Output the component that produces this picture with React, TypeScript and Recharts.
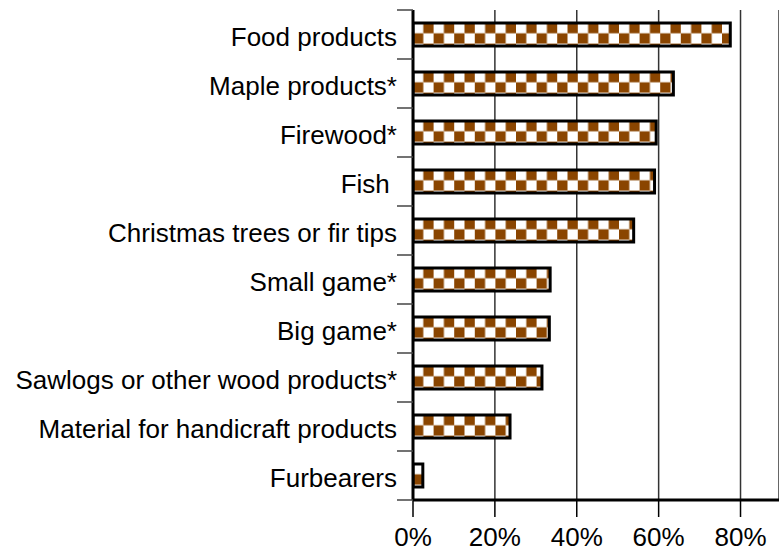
import React from 'react';
import { BarChart, Bar, XAxis, YAxis, CartesianGrid } from 'recharts';

const categories = [
  'Food products',
  'Maple products*',
  'Firewood*',
  'Fish ',
  'Christmas trees or fir tips',
  'Small game*',
  'Big game*',
  'Sawlogs or other wood products*',
  'Material for handicraft products',
  'Furbearers',
];
const values = [77.5, 63.6, 59.4, 59.0, 53.9, 33.5, 33.3, 31.5, 23.7, 2.4];
const xTicks = [0, 20, 40, 60, 80];

const data = categories.map((name, i) => ({ name, value: values[i] }));

const W = 779;
const H = 552;
const TOP = 10;
const XAXIS_H = 52;
const YAXIS_W = 413;
const BAND = (H - TOP - XAXIS_H) / categories.length;
const BROWN = '#8a4500';
const CELL = 10.3;
const FONT = '"Liberation Sans", Arial, Helvetica, sans-serif';

function CheckerBar(props: any) {
  const { x, y, width, height, index } = props;
  if (width == null || height == null) return null;
  const id = `chk-${index}`;
  return (
    <g>
      <defs>
        <pattern id={id} patternUnits="userSpaceOnUse" x={x} y={y} width={CELL * 2} height={CELL * 2}>
          <rect x={0} y={0} width={CELL * 2} height={CELL * 2} fill="#fff" />
          <rect x={CELL} y={0} width={CELL} height={CELL} fill={BROWN} />
          <rect x={0} y={CELL} width={CELL} height={CELL} fill={BROWN} />
        </pattern>
      </defs>
      <rect x={x} y={y} width={width} height={height} fill={`url(#${id})`} stroke="#000" strokeWidth={3} />
    </g>
  );
}

function YTick(props: any) {
  const { x, y, payload, index } = props;
  const isLast = index === categories.length - 1;
  return (
    <g>
      <line x1={x - 16} x2={x} y1={y - BAND / 2} y2={y - BAND / 2} stroke="#444" strokeWidth={1.5} />
      {isLast && (
        <line x1={x - 16} x2={x} y1={y + BAND / 2} y2={y + BAND / 2} stroke="#444" strokeWidth={1.5} />
      )}
      <text
        x={x - 16}
        y={y}
        dy={11}
        textAnchor="end"
        fontSize={26}
        fontFamily={FONT}
        fill="#000"
        style={{ whiteSpace: 'pre' }}
      >
        {payload.value}
      </text>
    </g>
  );
}

export default function App() {
  return (
    <div style={{ position: 'absolute', left: 0, top: 0, width: W, height: H, background: '#fff' }}>
      <BarChart
        width={W}
        height={H}
        data={data}
        layout="vertical"
        margin={{ top: TOP, right: 0, bottom: 0, left: 0 }}
        barCategoryGap={0}
      >
        <CartesianGrid horizontal={false} vertical={true} stroke="#333" strokeWidth={1.5} />
        <XAxis
          type="number"
          domain={[0, 89.4]}
          ticks={xTicks}
          allowDataOverflow
          height={XAXIS_H}
          tickFormatter={(v: number) => `${v}%`}
          tick={{ fontSize: 26, fill: '#000', fontFamily: FONT }}
          tickSize={17}
          tickMargin={11}
          tickLine={{ stroke: '#000', strokeWidth: 1.5 }}
          axisLine={{ stroke: '#000', strokeWidth: 3 }}
        />
        <YAxis
          type="category"
          dataKey="name"
          width={YAXIS_W}
          tickSize={0}
          tickMargin={0}
          tickLine={false}
          interval={0}
          axisLine={{ stroke: '#000', strokeWidth: 3 }}
          tick={<YTick />}
        />
        <Bar dataKey="value" barSize={23} shape={<CheckerBar />} isAnimationActive={false} />
      </BarChart>
    </div>
  );
}
